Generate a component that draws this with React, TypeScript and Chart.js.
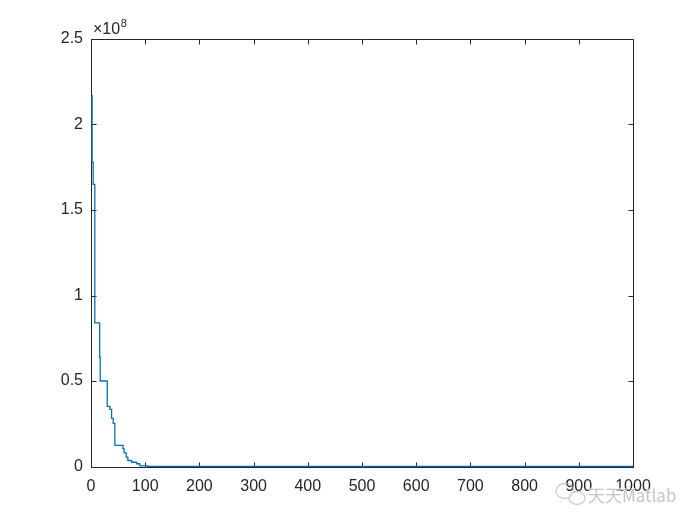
import React, { useEffect, useRef } from "react";
import { Chart, registerables } from "chart.js";

Chart.register(...registerables);

const iterations = [1, 2, 4, 7, 16, 17, 30, 35, 38, 41, 44, 59, 61, 65, 68, 75, 84, 90, 105, 1000];
const bestValues = [
  2.17e8, 1.78e8, 1.65e8, 0.84e8, 0.64e8, 0.5e8, 0.352e8, 0.334e8, 0.281e8, 0.252e8,
  0.123e8, 0.104e8, 0.08e8, 0.055e8, 0.035e8, 0.025e8, 0.016e8, 0.004e8, 0.0002e8, 0.0002e8,
];
const xTicks = [0, 100, 200, 300, 400, 500, 600, 700, 800, 900, 1000];
const yTicks = [0, 0.5e8, 1e8, 1.5e8, 2e8, 2.5e8];
const yTickLabels = ["0", "0.5", "1", "1.5", "2", "2.5"];
const exponentBase = "×10";
const exponentPower = "8";
const watermark = "天天Matlab";

const FONT = "'Liberation Sans', Arial, Helvetica, sans-serif";
const TEXT = "#262626";

const boxPlugin = {
  id: "matlabBox",
  beforeDatasetsDraw(chart: any) {
    const { ctx, chartArea: a, scales } = chart;
    const xs = scales.x;
    const ys = scales.y;
    ctx.save();
    ctx.strokeStyle = "#262626";
    ctx.lineWidth = 1;
    ctx.beginPath();
    const L = Math.round(a.left) + 0.5;
    const R = Math.round(a.right) + 0.5;
    const T = Math.round(a.top) + 0.5;
    const B = Math.round(a.bottom) + 0.5;
    ctx.rect(L, T, R - L, B - T);
    const tl = 5;
    xTicks.forEach((v) => {
      const p = Math.round(xs.getPixelForValue(v)) + 0.5;
      ctx.moveTo(p, B);
      ctx.lineTo(p, B - tl);
      ctx.moveTo(p, T);
      ctx.lineTo(p, T + tl);
    });
    yTicks.forEach((v) => {
      const p = Math.round(ys.getPixelForValue(v)) + 0.5;
      ctx.moveTo(L, p);
      ctx.lineTo(L + tl, p);
      ctx.moveTo(R, p);
      ctx.lineTo(R - tl, p);
    });
    ctx.stroke();
    ctx.restore();
  },
  afterDraw(chart: any) {
    const { ctx, chartArea: a } = chart;
    const L = Math.round(a.left) + 0.5;
    const T = Math.round(a.top) + 0.5;
    ctx.save();
    // exponent label
    ctx.fillStyle = TEXT;
    ctx.textBaseline = "alphabetic";
    ctx.textAlign = "left";
    ctx.font = `16px ${FONT}`;
    ctx.fillText(exponentBase, L + 1.5, T - 5.5);
    const w = ctx.measureText(exponentBase).width;
    ctx.font = `11px ${FONT}`;
    ctx.fillText(exponentPower, L + 2 + w, T - 12.5);

    // watermark
    ctx.globalAlpha = 0.6;
    ctx.strokeStyle = "#b0b0b0";
    ctx.lineWidth = 1.3;
    ctx.beginPath();
    ctx.ellipse(565, 491, 9, 7.5, 0, 0, Math.PI * 2);
    ctx.stroke();
    ctx.beginPath();
    ctx.ellipse(577, 498, 8, 6.5, 0, 0, Math.PI * 2);
    ctx.fillStyle = "#ffffff";
    ctx.fill();
    ctx.stroke();
    ctx.fillStyle = "#a0a0a0";
    ctx.font = `17px 'Noto Sans CJK SC', ${FONT}`;
    ctx.textBaseline = "middle";
    ctx.strokeStyle = "#ffffff";
    ctx.lineWidth = 2;
    ctx.strokeText(watermark, 588, 496);
    ctx.fillText(watermark, 588, 496);
    ctx.restore();
  },
};

export default function App() {
  const ref = useRef<HTMLCanvasElement | null>(null);
  useEffect(() => {
    document.body.style.margin = "0";
    const canvas = ref.current!;
    const chart = new Chart(canvas, {
      type: "line",
      data: {
        datasets: [
          {
            data: iterations.map((x, i) => ({ x, y: bestValues[i] })),
            borderColor: "#0072BD",
            borderWidth: 1.3,
            pointRadius: 0,
            stepped: "before",
            fill: false,
            clip: 3,
          },
        ],
      },
      options: {
        responsive: false,
        animation: false,
        devicePixelRatio: 1,
        layout: { padding: { top: 39, right: 67, left: 0, bottom: 0 } },
        plugins: { legend: { display: false }, tooltip: { enabled: false } },
        scales: {
          x: {
            type: "linear",
            min: 0,
            max: 1000,
            grid: { display: false, drawTicks: false },
            border: { display: false },
            afterBuildTicks: (s: any) => {
              s.ticks = xTicks.map((v) => ({ value: v }));
            },
            afterFit: (s: any) => {
              s.height = 58.5;
            },
            ticks: {
              padding: 10,
              maxRotation: 0,
              autoSkip: false,
              color: TEXT,
              font: { family: FONT, size: 16 },
              callback: (v: any) => String(v),
            },
          },
          y: {
            type: "linear",
            min: 0,
            max: 2.5e8,
            grid: { display: false, drawTicks: false },
            border: { display: false },
            afterBuildTicks: (s: any) => {
              s.ticks = yTicks.map((v) => ({ value: v }));
            },
            afterFit: (s: any) => {
              s.width = 91;
            },
            ticks: {
              padding: 8,
              autoSkip: false,
              color: TEXT,
              font: { family: FONT, size: 16 },
              callback: (v: any) => {
                const i = yTicks.indexOf(Number(v));
                return i >= 0 ? yTickLabels[i] : "";
              },
            },
          },
        },
      },
      plugins: [boxPlugin],
    });
    return () => chart.destroy();
  }, []);
  return (
    <div style={{ width: 700, height: 525, background: "#fff" }}>
      <canvas ref={ref} width={700} height={525} />
    </div>
  );
}
